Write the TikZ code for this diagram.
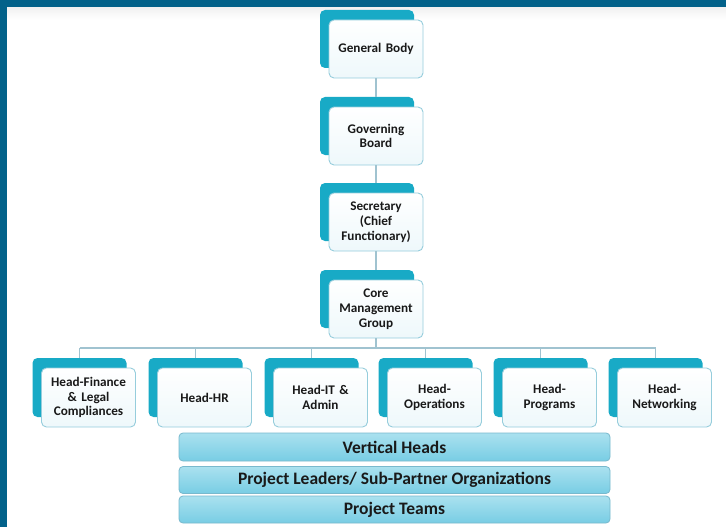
\documentclass[tikz,border=0pt]{standalone}
\usepackage{fontspec}
\setmainfont{Carlito}
\usetikzlibrary{positioning,calc}
\definecolor{frame}{RGB}{3,98,138}
\definecolor{tealback}{RGB}{24,170,198}
\definecolor{frontborder}{RGB}{150,205,220}
\definecolor{frontfill}{RGB}{238,248,251}
\definecolor{linecol}{RGB}{160,195,208}
\definecolor{bartop}{RGB}{170,225,239}
\definecolor{barbot}{RGB}{120,205,228}
\definecolor{barborder}{RGB}{120,185,205}
\definecolor{txt}{RGB}{25,25,25}
\tikzset{
  front/.style={draw=frontborder, line width=0.9pt, rounded corners=5pt,
    top color=white, bottom color=frontfill, minimum width=94pt, minimum height=58pt,
    inner sep=0pt, align=center, text width=92pt, text=txt,
    font=\fontsize{13.2}{14.8}\selectfont\bfseries},
  back/.style={fill=tealback, rounded corners=5pt, minimum width=94pt, minimum height=58pt, inner sep=0pt},
  bar/.style={draw=barborder, line width=0.8pt, rounded corners=4pt,
    top color=bartop, bottom color=barbot, minimum width=431pt, inner sep=0pt,
    text=txt, font=\fontsize{17.5}{18}\selectfont\bfseries},
  conn/.style={draw=linecol, line width=1.3pt}
}
\begin{document}
\begin{tikzpicture}[x=1pt,y=-1pt]
\useasboundingbox (0,0) rectangle (726,527);
\fill[white] (0,0) rectangle (726,527);
\fill[frame] (0,0) rectangle (726,8);
\fill[frame] (0,0) rectangle (7,527);
\shade[top color=black!5, bottom color=white] (7,8) rectangle (726,20);

% top column
\foreach \n/\y in {gb/49, gov/136, sec/222, core/309}{
  \node[back] (\n back) at (367,\y-10) {};
}
\node[front] (gb) at (376,49) {General Body};
\node[front] (gov) at (376,136) {Governing\\Board};
\node[front] (sec) at (376,222) {Secretary\\(Chief\\Functionary)};
\node[front] (core) at (376,309) {Core\\Management\\Group};

\draw[conn] (gb.south) -- (gb.south |- govback.north);
\draw[conn] (gov.south) -- (gov.south |- secback.north);
\draw[conn] (sec.south) -- (sec.south |- coreback.north);

% heads
\foreach \n/\x in {fin/88.5, hr/204.5, it/320.5, ops/434.5, prog/549.5, net/664.5}{
  \node[back, minimum height=59pt] (\n back) at (\x-9,387.5) {};
}
\node[front, minimum height=59pt] (fin) at (88.5,397.5) {Head-Finance\\\& Legal\\Compliances};
\node[front, minimum height=59pt] (hr) at (204.5,397.5) {Head-HR};
\node[front, minimum height=59pt] (it) at (320.5,397.5) {Head-IT \&\\Admin};
\node[front, minimum height=59pt] (ops) at (434.5,397.5) {Head-\\Operations};
\node[front, minimum height=59pt] (prog) at (549.5,397.5) {Head-\\Programs};
\node[front, minimum height=59pt] (net) at (664.5,397.5) {Head-\\Networking};

\coordinate (bus) at (376,348);
\draw[conn] (core.south) -- (bus);
\draw[conn] (finback.north |- bus) -- (netback.north |- bus);
\foreach \n in {fin,hr,it,ops,prog,net}{
  \draw[conn] (\n back.north |- bus) -- (\n back.north);
}

% bars
\node[bar, minimum height=28pt] (vh) at (394.5,447) {Vertical Heads};
\node[bar, minimum height=27pt] (pl) at (394.5,480) {Project Leaders/ Sub-Partner Organizations};
\node[bar, minimum height=27pt] (pt) at (394.5,509.5) {Project Teams};
\end{tikzpicture}
\end{document}
